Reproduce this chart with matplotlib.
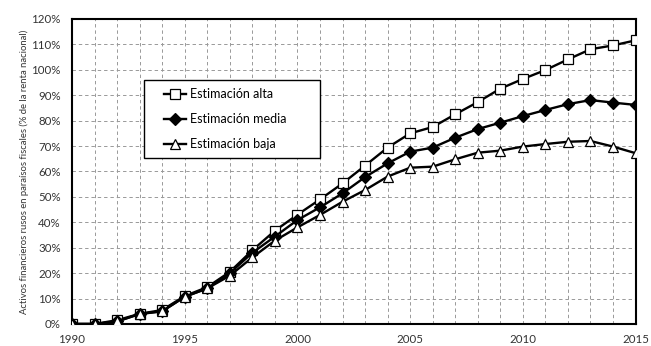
import numpy as np
import matplotlib.pyplot as plt
from matplotlib.patches import Rectangle
from matplotlib.ticker import FuncFormatter, MultipleLocator

plt.rcParams['font.family'] = ['Lato', 'DejaVu Sans']

# data (% of national income)
years = list(range(1990, 2016))
alta = [0, 0, 1.5, 4, 5.5, 11, 14.5, 20.5, 29, 36.7, 43, 49, 55.3, 62.3, 69.4,
        75, 77.5, 82.5, 87.3, 92.6, 96.4, 99.9, 104.1, 108.1, 109.6, 111.6]
media = [0, 0, 1, 4, 5, 10.7, 14, 20, 28, 34.4, 40.9, 45.9, 51.4, 57.8, 63.2,
         67.8, 69.4, 73.3, 76.7, 79.2, 81.8, 84.2, 86.5, 88.1, 87.1, 86.2]
baja = [0, 0, 1, 3.9, 5, 10.7, 14, 19, 26.2, 32.8, 38, 42.9, 48.1, 52.7, 58,
        61.5, 61.9, 64.8, 67.4, 68.2, 69.8, 70.8, 71.7, 72, 69.8, 67.2]

fig = plt.figure(figsize=(6.51, 3.46), dpi=100)
ax = fig.add_axes([0.1106, 0.0636, 0.8657, 0.8815])

style = dict(color='black', lw=1.7, mec='black', mew=0.9, zorder=3)
ax.plot(years, alta, marker='s', ms=6.6, mfc='white', label='Estimación alta', **style)
ax.plot(years, media, marker='D', ms=6.0, mfc='black', label='Estimación media', **style)
ax.plot(years, baja, marker='^', ms=7.5, mfc='white', label='Estimación baja', **style)

ax.set_xlim(1990, 2015)
ax.set_ylim(0, 120)
ax.set_xticks(range(1990, 2016, 5))
ax.xaxis.set_minor_locator(MultipleLocator(1))
ax.yaxis.set_major_locator(MultipleLocator(10))
ax.yaxis.set_major_formatter(FuncFormatter(lambda v, p: f'{int(v)}%'))
ax.tick_params(which='both', length=0, labelsize=8.3, colors='#333333')
ax.tick_params(axis='x', pad=7)
ax.tick_params(axis='y', pad=8)

ax.grid(True, which='both', axis='x', ls=(0, (3.5, 3)), color='#999999', lw=0.7)
ax.grid(True, which='major', axis='y', ls=(0, (3.5, 3)), color='#999999', lw=0.7)
ax.set_axisbelow(True)
for s in ax.spines.values():
    s.set_linewidth(1.5)
    s.set_color('black')

ax.set_ylabel('Activos financieros rusos en paraísos fiscales (% de la renta nacional)',
              fontsize=6.8, color='#333333', labelpad=2)

# legend box drawn separately so it can be wider than its contents
ax.add_patch(Rectangle((0.1285, 0.544), 0.3115, 0.256, transform=ax.transAxes,
                       facecolor='white', edgecolor='black', lw=1.0, zorder=4))
leg = ax.legend(loc='center left', bbox_to_anchor=(0.164, 0.672), fontsize=9,
                frameon=False, handlelength=1.75, labelspacing=1.05,
                borderpad=0, handletextpad=0.3, borderaxespad=0)
leg.set_zorder(5)

fig.savefig('out.png', dpi=100)
